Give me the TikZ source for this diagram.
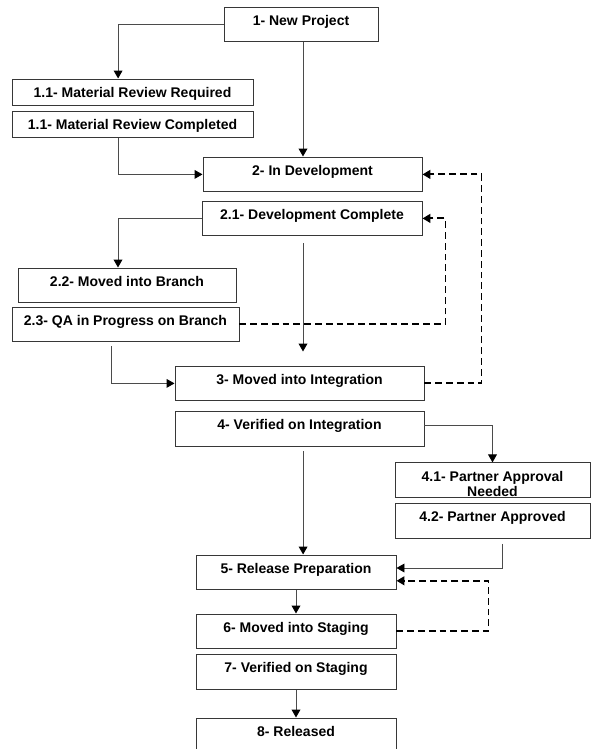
\documentclass[tikz,border=0pt]{standalone}
\usepackage{fontspec}
\setmainfont{Liberation Sans}
\usepackage{xcolor}
\usepackage{tikz}
\usetikzlibrary{arrows.meta, positioning}
\definecolor{BoxGray}{RGB}{55, 55, 55}
\definecolor{LineGray}{RGB}{75, 75, 75}

\begin{document}
\begin{tikzpicture}[
        >={Triangle[length=0.2cm, width=0.22cm, color=black]},
        stage/.style={draw=BoxGray, line width=0.7pt, fill=white, inner sep=0pt, font=\fontsize{9.96}{10.7}\selectfont\bfseries, text height=0.45cm, text depth=0.42cm},
        review/.style={stage, text depth=0.2cm},
        flow/.style={->, LineGray, line width=0.7pt},
        back/.style={->, black, line width=1.4pt, dash pattern=on 0.17cm off 0.1cm}
    ]
    \useasboundingbox (0,0) rectangle (14.775,-18.725);

    % Start
    \node[stage, minimum width=3.85cm] (np) at (7.525, -0.61) {1- New Project};
    \node[review, minimum width=6.025cm] (mrr) at (3.3125, -2.30) {1.1- Material Review Required};
    \node[review, minimum width=6.025cm, below=0.15cm of mrr] (mrc) {1.1- Material Review Completed};

    % Development
    \node[stage, minimum width=5.475cm] (dev) at (7.8125, -4.36) {2- In Development};
    \node[stage, minimum width=5.5cm] (dc) at (7.80, -5.46) {2.1- Development Complete};
    \node[stage, minimum width=5.45cm] (mib) at (3.175, -7.135) {2.2- Moved into Branch};
    \node[stage, minimum width=5.675cm] (qa) at (3.1375, -8.11) {2.3- QA in Progress on Branch};

    % Integration
    \node[stage, minimum width=6.225cm] (int) at (7.4875, -9.585) {3- Moved into Integration};
    \node[stage, minimum width=6.225cm, below=0.25cm of int] (vi) {4- Verified on Integration};
    \node[stage, minimum width=4.875cm, align=center, text height=0.85cm, text depth=0.025cm] (pa) at (12.3125, -12.01) {4.1- Partner Approval\\Needed};
    \node[stage, minimum width=4.875cm, below=0.125cm of pa] (ap) {4.2- Partner Approved};

    % Release
    \node[stage, minimum width=5cm] (rp) at (7.40, -14.31) {5- Release Preparation};
    \node[stage, minimum width=5cm] (ms) at (7.40, -15.785) {6- Moved into Staging};
    \node[stage, minimum width=5cm, below=0.125cm of ms] (vs) {7- Verified on Staging};
    \node[stage, minimum width=5cm] (rel) at (7.40, -18.385) {8- Released};

    % Forward flow
    \draw[flow] (np.west) -| ([xshift=-0.36cm]mrr.north);
    \draw[flow] ([xshift=0.05cm]np.south) -- ([xshift=0.05cm]np.south |- dev.north);
    \draw[flow] ([xshift=-0.36cm]mrc.south) |- (dev.west);
    \draw[flow] (dc.west) -| ([xshift=-0.225cm]mib.north);
    \draw[flow] ([xshift=-0.225cm, yshift=-0.175cm]dc.south) -- ([xshift=-0.225cm, yshift=0.35cm]dc.south |- int.north);
    \draw[flow] ([xshift=-0.36cm, yshift=-0.1cm]qa.south) |- (int.west);
    \draw[flow] ([yshift=0.1cm]vi.east) -| (pa.north);
    \draw[flow] ([xshift=0.09cm, yshift=-0.1cm]vi.south) -- ([xshift=0.09cm]vi.south |- rp.north);
    \draw[flow] ([xshift=0.26cm, yshift=-0.12cm]ap.south) |- ([yshift=0.11cm]rp.east);
    \draw[flow] (rp.south) -- (ms.north);
    \draw[flow] (vs.south) -- (rel.north);

    % Loops back
    \draw[back] (int.east) -- ++(1.425,0) |- (dev.east);
    \draw[back] (qa.east) -- ++(5.15,0) |- (dc.east);
    \draw[back] (ms.east) -- ++(2.3,0) |- ([yshift=-0.21cm]rp.east);

\end{tikzpicture}
\end{document}
